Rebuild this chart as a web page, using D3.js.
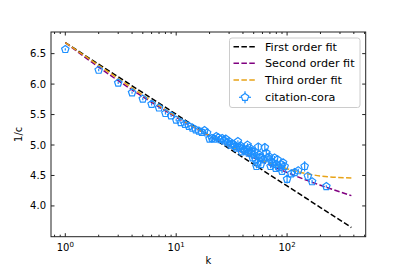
<!DOCTYPE html>
<html><head><meta charset="utf-8">
<script src="https://cdn.jsdelivr.net/npm/d3@7"></script>
<style>body{margin:0;background:#fff}svg{display:block;font-family:"DejaVu Sans",sans-serif}</style>
</head><body><svg id="c" width="407" height="271"></svg>
<script>
// ---- data ----
const degreeK = [1,2,3,4,5,6,7,8,9,10,11,12,13,14,15,16,17,18,19,20,21,22,23,24,25,26,27,28,29,30,31,32,33,34,35,36,37,38,39,40,41,42,43,44,45,46,47,48,49,50,51,52,53,54,55,56,57,58,59,61,63,65,67,69,71,72,74,77,79,80,82,85,88,90,92,95,100,109,117,126,144,154,168,226];
const invC    = [6.57,6.23,6.02,5.86,5.755,5.67,5.61,5.52,5.48,5.41,5.37,5.34,5.31,5.28,5.25,5.23,5.21,5.24,5.20,5.10,5.11,5.10,5.14,5.12,5.09,5.11,5.07,5.10,5.04,5.06,5.00,5.02,5.01,4.98,4.95,5.06,4.97,4.99,4.89,4.94,4.92,4.90,4.93,5.00,4.87,4.95,4.87,4.90,4.79,4.84,4.89,4.76,4.65,4.71,4.97,4.84,4.80,4.68,4.79,4.76,4.96,4.87,4.79,4.81,4.65,4.73,4.71,4.79,4.62,4.68,4.76,4.63,4.68,4.57,4.71,4.65,4.44,4.53,4.55,4.58,4.65,4.49,4.40,4.32];
const invCErr = [0.02,0.02,0.02,0.02,0.02,0.02,0.02,0.02,0.02,0.02,0.02,0.02,0.02,0.02,0.02,0.02,0.02,0.02,0.02,0.02,0.02,0.02,0.02,0.02,0.02,0.02,0.02,0.02,0.02,0.02,0.02,0.02,0.02,0.02,0.02,0.02,0.02,0.02,0.02,0.02,0.02,0.02,0.02,0.03,0.02,0.03,0.02,0.03,0.02,0.03,0.03,0.03,0.03,0.03,0.05,0.03,0.03,0.03,0.03,0.03,0.07,0.03,0.03,0.03,0.03,0.03,0.03,0.03,0.03,0.03,0.03,0.03,0.03,0.03,0.03,0.03,0.07,0.03,0.03,0.03,0.085,0.03,0.03,0.02];

const fitK      = [1,2,5,10,20,50,100,200,380];
const fitFirst  = [6.68,6.326,5.858,5.504,5.150,4.682,4.328,3.974,3.646];
const fitSecond = [6.68,6.278,5.791,5.456,5.149,4.789,4.549,4.339,4.169];
const fitThird  = [6.68,6.308,5.819,5.470,5.153,4.804,4.610,4.492,4.460];

const yTicks = [4.0,4.5,5.0,5.5,6.0,6.5];
const xTicks = [1,10,100];
const xTickExp = ["0","1","2"];
const legendLabels = ["First order fit","Second order fit","Third order fit","citation-cora"];

// ---- drawing ----
const svg = d3.select("#c");
const L=51, R=365.7, T=32, B=236.7;
const x = d3.scaleLog().domain([Math.pow(10,-0.129), Math.pow(10,2.709)]).range([L,R]);
const y = d3.scaleLinear().domain([3.495,6.855]).range([B,T]);
const blue="#1e90ff", purple="#800080", orange="#e8a317";
const fits=[{v:fitFirst,c:"#000"},{v:fitSecond,c:purple},{v:fitThird,c:orange}];

svg.append("clipPath").attr("id","pc").append("rect").attr("x",L).attr("y",T).attr("width",R-L).attr("height",B-T);
const g = svg.append("g").attr("clip-path","url(#pc)");

const line = d3.line().x(d=>x(d[0])).y(d=>y(d[1])).curve(d3.curveMonotoneX);
fits.forEach(f=>{
  g.append("path").attr("d", line(fitK.map((k,i)=>[k,f.v[i]])))
   .attr("fill","none").attr("stroke",f.c).attr("stroke-width",1.5).attr("stroke-dasharray","5.5,2.4");
});

function pentPath(r){let p=[];for(let i=0;i<5;i++){const a=-Math.PI/2+i*2*Math.PI/5;p.push([r*Math.cos(a),r*Math.sin(a)]);}return "M"+p.map(q=>q[0].toFixed(2)+","+q[1].toFixed(2)).join("L")+"Z";}
const pd = pentPath(3.9);

const pts = degreeK.map((k,i)=>({k, v:invC[i], e:invCErr[i]}));
g.selectAll("line.err").data(pts).enter().append("line")
  .attr("x1",d=>x(d.k)).attr("x2",d=>x(d.k)).attr("y1",d=>y(d.v-d.e)).attr("y2",d=>y(d.v+d.e))
  .attr("stroke",blue).attr("stroke-width",1.2);
g.selectAll("path.pt").data(pts).enter().append("path")
  .attr("d",pd).attr("transform",d=>`translate(${x(d.k)},${y(d.v)})`)
  .attr("fill","none").attr("stroke",blue).attr("stroke-width",1.2);

// axes frame
svg.append("rect").attr("x",L).attr("y",T).attr("width",R-L).attr("height",B-T).attr("fill","none").attr("stroke","#222").attr("stroke-width",1);

// y ticks
yTicks.forEach(t=>{
  const yy=y(t);
  svg.append("line").attr("x1",L).attr("x2",L+3.5).attr("y1",yy).attr("y2",yy).attr("stroke","#222");
  svg.append("line").attr("x1",R-3.5).attr("x2",R).attr("y1",yy).attr("y2",yy).attr("stroke","#222");
  svg.append("text").attr("x",L-5).attr("y",yy).attr("dy","0.35em").attr("text-anchor","end").attr("font-size",10).attr("fill","#000").text(d3.format(".1f")(t));
});
// x ticks
const [d0,d1]=x.domain();
for(let e=-1;e<=3;e++){
  for(let m=1;m<10;m++){
    const v=m*Math.pow(10,e);
    if(v<d0||v>d1) continue;
    const len = m===1?3.5:2;
    const xx=x(v);
    svg.append("line").attr("x1",xx).attr("x2",xx).attr("y1",B).attr("y2",B-len).attr("stroke","#222");
    svg.append("line").attr("x1",xx).attr("x2",xx).attr("y1",T).attr("y2",T+len).attr("stroke","#222");
  }
}
xTicks.forEach((t,i)=>{
  const tx=svg.append("text").attr("x",x(t)).attr("y",B+14).attr("text-anchor","middle").attr("font-size",10).attr("fill","#000");
  tx.append("tspan").text("10");
  tx.append("tspan").attr("dy",-4).attr("font-size",7).text(xTickExp[i]);
});
// axis labels
svg.append("text").attr("x",(L+R)/2).attr("y",B+27).attr("text-anchor","middle").attr("font-size",10).text("k");
svg.append("text").attr("transform",`translate(22,${(T+B)/2}) rotate(-90)`).attr("text-anchor","middle").attr("font-size",10).text("1/c");

// legend
const lg=svg.append("g");
lg.append("rect").attr("x",229.5).attr("y",38).attr("width",130.5).attr("height",69.5).attr("rx",2.5)
  .attr("fill","#fff").attr("fill-opacity",0.8).attr("stroke","#ccc").attr("stroke-width",1);
const rows=[46.7,63.3,80,97.3];
fits.forEach((f,i)=>{
  lg.append("line").attr("x1",233.5).attr("x2",257).attr("y1",rows[i]).attr("y2",rows[i]).attr("stroke",f.c).attr("stroke-width",1.5).attr("stroke-dasharray","5.5,2.4");
});
lg.append("line").attr("x1",239).attr("x2",251).attr("y1",rows[3]).attr("y2",rows[3]).attr("stroke",blue).attr("stroke-width",1.2);
lg.append("line").attr("x1",245).attr("x2",245).attr("y1",rows[3]-6).attr("y2",rows[3]+6).attr("stroke",blue).attr("stroke-width",1.2);
lg.append("path").attr("d",pd).attr("transform",`translate(245,${rows[3]})`).attr("fill","#fff").attr("stroke",blue).attr("stroke-width",1.2);
legendLabels.forEach((t,i)=>{
  lg.append("text").attr("x",265).attr("y",rows[i]).attr("dy","0.35em").attr("font-size",11.2).attr("fill","#000").text(t);
});
</script></body></html>
